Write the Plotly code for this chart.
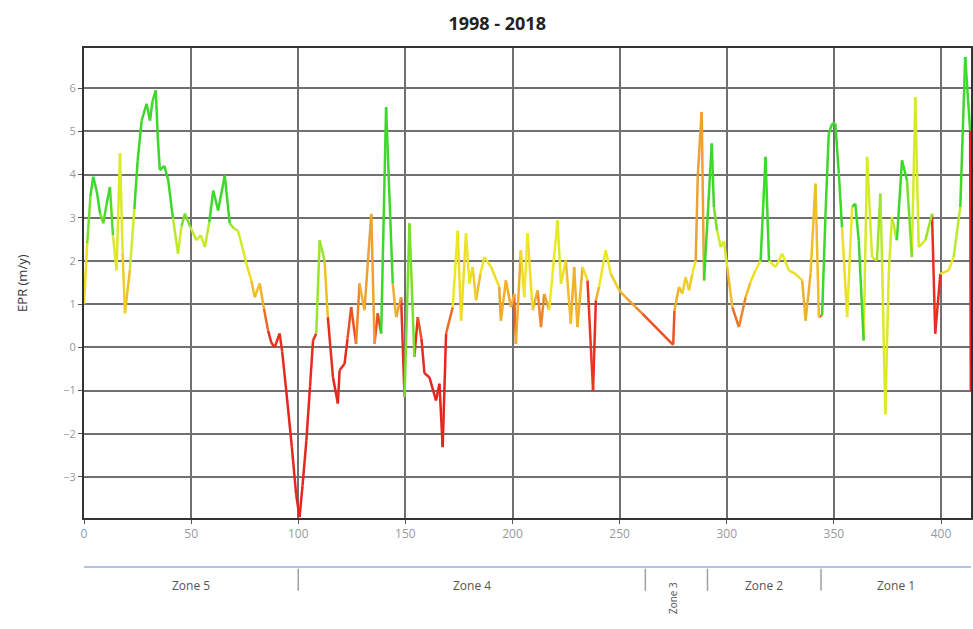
import numpy as np
import plotly.graph_objects as go

# ---------------- data ----------------
transect = [0, 1.5, 3.0, 4.3, 6.0, 7.5, 9.0, 10.5, 12.1, 13.5, 15.2, 16.8, 18.0, 19.1, 21.4,
            23.5, 25.0, 26.9, 29.2, 30.8, 32.0, 33.5, 34.5, 35.4, 37.5, 39.3, 41.5, 43.9, 45.5,
            47.1, 49.5, 52.5, 54.5, 56.4, 58.5, 60.3, 62.6, 65.7, 68.0, 70.0, 71.9, 74.0, 76.0,
            78.1, 79.7, 82.0, 84.0, 85.9, 87.5, 89.0, 91.3, 92.5, 94.4, 97.0, 99.0, 100.6, 102.0,
            103.8, 105.5, 106.9, 108.4, 110.0, 112.3, 113.8, 116.2, 118.5, 119.3, 121.6, 123.0,
            124.7, 127.0, 128.6, 130.9, 134.1, 135.6, 137.1, 138.7, 141.0, 144.1, 145.7, 148.0,
            149.6, 151.9, 154.2, 155.8, 157.5, 158.9, 161.2, 164.3, 165.9, 167.4, 169.0, 172.1,
            174.4, 176.0, 178.3, 179.9, 181.4, 183.0, 185.0, 186.9, 190.0, 193.8, 194.6, 196.9,
            199.3, 200.8, 201.6, 203.9, 205.5, 207.0, 209.4, 211.7, 213.3, 214.8, 217.1, 221.0,
            222.6, 224.9, 227.2, 228.8, 230.3, 232.7, 235.0, 237.6, 238.9, 240.4, 243.5, 245.9,
            249.8, 252.9, 257.5, 260.6, 275.0, 275.6, 277.7, 279.3, 280.8, 282.4, 283.9, 285.5,
            286.5, 288.3, 289.4, 293.0, 294.0, 295.5, 297.2, 298.7, 300.2, 302.6, 305.7, 308.8,
            311.0, 313.4, 315.8, 318.1, 319.7, 322.8, 325.9, 329.0, 332.1, 335.2, 336.8, 339.1,
            341.4, 343.0, 344.5, 346.1, 347.6, 349.2, 350.7, 352.3, 353.8, 356.2, 358.5, 360.0,
            361.6, 363.9, 365.5, 367.8, 370.1, 371.7, 372.5, 374.0, 375.6, 377.1, 379.4, 381.8,
            384.1, 386.4, 388.0, 389.6, 392.7, 395.8, 397.3, 399.7, 403.5, 405.9, 409.0, 411.3,
            413.6, 413.9]
epr = [1.0, 2.4, 3.5, 3.95, 3.6, 3.1, 2.87, 3.3, 3.71, 2.6, 1.78, 4.49, 2.2, 0.79, 1.78,
       3.2, 4.3, 5.25, 5.64, 5.25, 5.7, 5.95, 4.8, 4.1, 4.2, 3.87, 3.0, 2.17, 2.8,
       3.1, 2.8, 2.48, 2.6, 2.32, 2.9, 3.63, 3.17, 3.98, 2.87, 2.75, 2.7, 2.3, 1.9,
       1.55, 1.16, 1.48, 0.9, 0.39, 0.1, 0.0, 0.32, -0.1, -1.0, -2.3, -3.4, -3.93, -3.2,
       -2.15, -0.9, 0.16, 0.32, 2.48, 2.0, 0.7, -0.69, -1.3, -0.53, -0.38, 0.2,
       0.93, 0.08, 1.48, 0.86, 3.09, 0.08, 0.79, 0.32, 5.56, 1.48, 0.7, 1.16,
       -1.15, 2.87, -0.22, 0.7, 0.2, -0.6, -0.69, -1.23, -0.84, -2.31, 0.32, 0.93,
       2.7, 0.62, 2.64, 1.48, 1.86, 1.09, 1.7, 2.09, 1.86, 1.4, 0.62, 1.55,
       0.93, 1.24, 0.08, 2.25, 1.16, 2.64, 0.86, 1.32, 0.47, 1.24, 0.86, 2.94,
       1.47, 2.01, 0.55, 1.86, 0.47, 1.86, 1.55, -1.0, 1.09, 1.4, 2.25, 1.7,
       1.32, 1.16, 0.93, 0.78, 0.06, 0.86, 1.4, 1.24, 1.63, 1.32, 1.7, 2.01,
       4.0, 5.45, 1.55, 4.72, 3.25, 2.7, 2.32, 2.46, 1.86, 0.93, 0.47, 1.16,
       1.5, 1.78, 2.01, 4.41, 2.01, 1.86, 2.17, 1.78, 1.7, 1.55, 0.62, 1.7,
       3.79, 0.7, 0.75, 3.09, 4.95, 5.18, 5.18, 4.02, 2.78, 0.7, 3.25, 3.33,
       2.48, 0.16, 4.41, 2.09, 2.01, 3.56, 1.94, -1.55, 1.7, 3.02, 2.48, 4.33,
       3.87, 2.09, 5.79, 2.32, 2.48, 3.09, 0.32, 1.7, 1.78, 2.09, 3.25, 6.72,
       5.02, -1.0]

# segment tone overrides: (from transect, to transect, tone)
tone_overrides = [(15.2, 18.0, 2.2), (108.4, 112.3, 2.8), (130.9, 135.6, 1.0),
                  (138.7, 144.1, 4.0), (149.6, 154.2, 3.0), (285.5, 289.4, 1.0),
                  (289.4, 294.0, 4.0), (315.8, 319.7, 4.0), (339.1, 343.0, 1.3),
                  (344.5, 346.1, 4.0), (360.0, 363.9, 4.0), (363.9, 367.8, 2.3),
                  (372.5, 375.6, 2.2), (379.4, 384.1, 4.0), (386.4, 389.6, 2.3),
                  (395.8, 399.7, 0.0), (413.6, 414.0, -2.0)]

zone_names = ["Zone 5", "Zone 4", "Zone 3", "Zone 2", "Zone 1"]
zone_starts = [0, 100, 262, 291, 344]
zone_ends = [100, 262, 291, 344, 414]

x_ticks = [0, 50, 100, 150, 200, 250, 300, 350, 400]
y_ticks = [-3, -2, -1, 0, 1, 2, 3, 4, 5, 6]

# ---------------- colour scale ----------------
scale_pts = [-1.0, 0.3, 1.0, 1.8, 2.6, 3.3]
scale_rgb = [(232, 36, 30), (232, 50, 30), (240, 160, 48), (240, 232, 34),
             (200, 236, 44), (60, 216, 42)]


def tone_colour(t):
    t = min(max(t, scale_pts[0]), scale_pts[-1])
    r = np.interp(t, scale_pts, [c[0] for c in scale_rgb])
    g = np.interp(t, scale_pts, [c[1] for c in scale_rgb])
    b = np.interp(t, scale_pts, [c[2] for c in scale_rgb])
    return "rgb(%d,%d,%d)" % (r, g, b)


bins = {}
for i in range(len(transect) - 1):
    x0, x1 = transect[i], transect[i + 1]
    tone = (epr[i] + epr[i + 1]) / 2
    for a, b, t in tone_overrides:
        if a <= x0 < b:
            tone = t
    q = round(tone * 6) / 6
    bins.setdefault(q, ([], []))
    bins[q][0].extend([x0, x1, None])
    bins[q][1].extend([epr[i], epr[i + 1], None])

fig = go.Figure()
for q in sorted(bins):
    xs, ys = bins[q]
    fig.add_trace(go.Scatter(x=xs, y=ys, mode="lines",
                             line=dict(color=tone_colour(q), width=2.5),
                             hoverinfo="skip", showlegend=False))

# ---------------- zone axis ----------------
shapes = [dict(type="line", xref="paper", yref="paper", x0=0, x1=1, y0=-0.104, y1=-0.104,
               line=dict(color="#9aaee0", width=1.5))]
annotations = []
for name, s, e in zip(zone_names, zone_starts, zone_ends):
    if s > 0:
        shapes.append(dict(type="line", xref="x", yref="paper", x0=s, x1=s, y0=-0.108, y1=-0.155,
                           line=dict(color="#a0a0a0", width=1.5)))
    mid = (s + e) / 2
    if name == "Zone 3":
        annotations.append(dict(x=mid - 1.5, y=-0.17, xref="x", yref="paper", text=name,
                                textangle=-90, showarrow=False, xanchor="center", yanchor="middle",
                                font=dict(size=10, color="#555", family="Open Sans")))
    else:
        annotations.append(dict(x=mid, y=-0.143, xref="x", yref="paper", text=name,
                                showarrow=False, xanchor="center", yanchor="middle",
                                font=dict(size=12, color="#555", family="Open Sans")))

annotations.append(dict(x=-0.07, y=0.5, xref="paper", yref="paper", text="EPR (m/y)",
                        textangle=-90, showarrow=False, xanchor="center", yanchor="middle",
                        font=dict(size=13, color="#333", family="Open Sans")))

fig.update_layout(
    width=973, height=629,
    margin=dict(l=84, r=0, t=48, b=111),
    paper_bgcolor="white", plot_bgcolor="white",
    title=dict(text="<b>1998 - 2018</b>", x=0.511, xref="container", y=0.962,
               yref="container", xanchor="center", yanchor="middle",
               font=dict(size=18, color="#222", family="Open Sans")),
    font=dict(family="Open Sans"),
    shapes=shapes, annotations=annotations,
    xaxis=dict(range=[0, 414], tickvals=x_ticks, showgrid=True, gridcolor="#707070",
               gridwidth=1.5, showline=True, linecolor="#333", linewidth=2, mirror=True,
               ticks="outside", ticklen=4, tickcolor="#555", zeroline=False,
               tickfont=dict(size=12, color="#999")),
    yaxis=dict(range=[-3.95, 6.93], tickvals=y_ticks, showgrid=True, gridcolor="#707070",
               gridwidth=1.5, showline=True, linecolor="#333", linewidth=2, mirror=True,
               ticks="outside", ticklen=4, tickcolor="#555", zeroline=False,
               tickfont=dict(size=11, color="#999")),
)

fig.write_html("out.html")
